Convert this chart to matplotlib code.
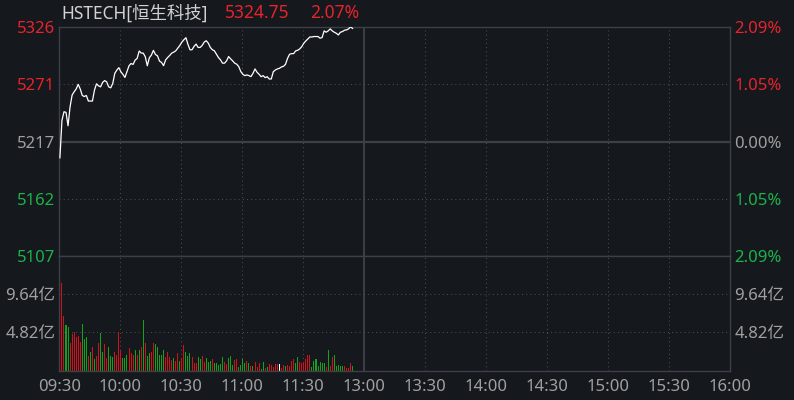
import numpy as np
import matplotlib
matplotlib.use('Agg')
from matplotlib import pyplot as plt

### DATA
name = 'HSTECH[恒生科技]'
last_price = '5324.75'
last_change = '2.07%'
prev_close = 5216.77

# one price per minute from 09:30
prices = [
    5201.4, 5237.0, 5245.3, 5244.7, 5231.9, 5250.0, 5261.2, 5264.3, 5267.0, 5271.4,
    5267.0, 5260.8, 5259.8, 5260.8, 5255.5, 5255.5, 5255.5, 5265.9, 5271.9, 5270.0,
    5269.0, 5273.2, 5275.0, 5273.8, 5269.0, 5268.1, 5272.2, 5281.9, 5285.0, 5287.3,
    5283.4, 5280.9, 5278.0, 5283.4, 5289.1, 5291.3, 5290.4, 5294.5, 5296.1, 5303.2,
    5301.2, 5301.2, 5297.7, 5289.1, 5296.7, 5299.3, 5303.8, 5299.9, 5298.6,
    5293.6, 5292.3, 5289.2, 5294.7, 5297.0, 5298.9, 5301.2, 5302.1, 5303.4, 5306.0,
    5308.5, 5311.7, 5313.9, 5315.9, 5309.5, 5304.4, 5304.4, 5307.6, 5309.8, 5306.6,
    5306.6, 5308.5, 5311.7, 5313.0, 5310.7, 5306.6, 5304.4, 5303.4, 5300.2, 5297.0,
    5294.8, 5291.6, 5291.6, 5293.8, 5297.9, 5295.7, 5293.8, 5291.6, 5290.6, 5288.3,
    5283.6, 5281.0, 5279.7, 5280.4, 5279.7, 5278.8, 5281.9, 5286.1,
    5282.9, 5281.0, 5278.7, 5279.7, 5277.8, 5278.7, 5276.5, 5276.5, 5283.5, 5285.1,
    5286.1, 5286.7, 5288.0, 5288.6, 5290.5, 5296.2, 5300.1, 5300.7, 5300.7, 5303.3,
    5303.9, 5305.2, 5307.4, 5310.6, 5312.8, 5314.7, 5316.6, 5316.6, 5317.0, 5317.0,
    5317.0, 5315.4, 5316.0, 5322.4, 5321.1, 5322.4, 5324.3, 5322.4, 5321.1, 5320.1,
    5318.5, 5321.1, 5321.7, 5323.0, 5323.3, 5324.3, 5326.2, 5324.75,
]

# turnover per minute, in 亿
volumes = [
    14.4, 11.0, 6.88, 5.73, 5.48, 3.44, 4.63, 4.84, 4.20, 4.33,
    3.57, 5.86, 3.95, 4.20, 1.91, 2.42, 2.93, 1.53, 1.91, 3.44,
    4.71, 2.42, 3.31, 1.66, 2.93, 1.91, 1.78, 2.42, 2.04, 4.84,
    2.67, 1.66, 1.66, 2.04, 2.80, 2.17, 2.04,
    2.67, 2.04, 2.67, 2.93, 6.37, 3.44, 1.91, 2.29, 2.42, 3.44,
    3.31, 2.93, 2.04, 2.04, 2.55, 1.78, 2.42, 1.78, 1.40, 1.66,
    1.27, 2.29, 1.27, 1.66, 3.18, 2.42, 1.91, 2.17, 1.78, 1.02,
    1.02, 1.78, 1.53, 1.91, 1.15, 1.66,
    1.15, 1.27, 1.53, 1.02, 1.02, 0.76, 0.89, 1.78, 1.15, 0.89,
    1.66, 1.91, 0.76, 1.40, 1.53, 0.51, 0.76, 1.53, 1.02, 1.27,
    1.02, 0.64, 0.64, 1.15, 0.51, 1.02, 0.25, 1.15, 0.38, 0.51,
    0.89, 0.76, 0.51, 0.89, 0.89, 0.89,
    0.38, 0.76, 0.64, 0.76, 0.64, 1.27, 1.53, 1.02, 1.78, 1.15,
    1.02, 1.15, 1.53, 2.04, 2.04, 0.51, 1.27, 1.53, 0.64, 1.15,
    1.02, 1.02, 0.51, 2.55, 0.64, 1.78, 2.04, 0.64, 0.76, 0.64,
    0.64, 0.64, 0.38, 0.38, 1.02, 0.64,
]
# 1 up (red), -1 down (green), 0 flat (white)
directions = [
    1, 1, 1, -1, -1, 1, 1, 1, 1, 1,
    1, -1, -1, -1, 1, -1, 1, -1, 1, 1,
    -1, -1, 1, 1, -1, -1, -1, 1, 1, 1,
    1, -1, -1, -1, 1, 1, 1,
    -1, 1, -1, 1, -1, 1, -1, -1, 1, 1,
    -1, -1, -1, -1, -1, 1, 1, 1, 1, -1,
    1, 1, -1, 1, 1, -1, -1, -1, 1, 1,
    1, -1, -1, 1, 1, -1,
    -1, -1, 1, -1, -1, -1, -1, -1, 1, 1,
    -1, -1, -1, 1, 1, -1, -1, -1, -1, 1,
    -1, 1, -1, 1, 1, 1, -1, -1, 1, -1,
    1, 1, 1, 1, 1, 0,
    1, 1, -1, 1, 1, 1, 1, -1, -1, 1,
    1, 1, 1, 1, 1, -1, -1, -1, -1, -1,
    -1, -1, 1, -1, 1, 1, -1, -1, -1, -1,
    -1, 1, 1, 1, 1, -1,
]

time_labels = ['09:30', '10:00', '10:30', '11:00', '11:30', '13:00',
               '13:30', '14:00', '14:30', '15:00', '15:30', '16:00']
price_labels = ['5107', '5162', '5217', '5271', '5326']
pct_labels = ['2.09%', '1.05%', '0.00%', '1.05%', '2.09%']
vol_ticks = [4.82, 9.64]
vol_labels = ['4.82亿', '9.64亿']

### STYLE
bg = '#15181d'
red_txt = '#e8232c'
green_txt = '#1cb34a'
gray_txt = '#a0a0a0'
grid_c = '#494c53'
line_c = '#3d4046'
up_c, down_c, flat_c = '#d2121a', '#16a01c', '#ffffff'

plt.rcParams['font.family'] = ['Noto Sans', 'Noto Sans CJK SC', 'DejaVu Sans']
plt.rcParams['font.size'] = 12

W, H = 794, 400
fig = plt.figure(figsize = (W / 100, H / 100), dpi = 100, facecolor = bg)

x0, x1 = 59.3, 730.0
y_top, y_mid, y_bot = 27.3, 256.0, 370.7
ax_p = fig.add_axes([x0 / W, 1 - y_mid / H, (x1 - x0) / W, (y_mid - y_top) / H])
ax_v = fig.add_axes([x0 / W, 1 - y_bot / H, (x1 - x0) / W, (y_bot - y_mid) / H], sharex = ax_p)

n_min = 330
minutes = np.arange(len(prices)) + 0.3
half_hours = np.arange(0, n_min + 1, 30)

top = prev_close * 1.0209
bot = prev_close * 0.9791
p_ticks = np.linspace(bot, top, 5)

for ax in (ax_p, ax_v):
    ax.set_facecolor(bg)
    for s in ax.spines.values():
        s.set_color(line_c)
        s.set_linewidth(1.0)
    ax.tick_params(length = 0, colors = gray_txt, labelsize = 12)
    for t in half_hours[1:-1]:
        if t == 150:
            ax.axvline(t, color = line_c, lw = 1.4, zorder = 1)
        else:
            ax.axvline(t, color = grid_c, lw = 0.75, ls = (0, (1, 3)), zorder = 1)

ax_p.set_xlim(0, n_min)
ax_p.set_ylim(bot, top)

# price panel
for v in (p_ticks[1], p_ticks[3]):
    ax_p.axhline(v, color = grid_c, lw = 0.75, ls = (0, (1, 3)), zorder = 1)
ax_p.axhline(prev_close, color = line_c, lw = 1.6, zorder = 1)
ax_p.plot(minutes, prices, color = '#ffffff', lw = 0.9, zorder = 3)
ax_p.set_yticks(p_ticks)
ax_p.set_yticklabels(price_labels)
ax_p.tick_params(axis = 'y', pad = 3)
ax_p.tick_params(axis = 'x', labelbottom = False)
txt_colors = [green_txt, green_txt, gray_txt, red_txt, red_txt]
for lab, c in zip(ax_p.get_yticklabels(), txt_colors):
    lab.set_color(c)

ax_r = ax_p.twinx()
ax_r.set_ylim(bot, top)
ax_r.set_yticks(p_ticks)
ax_r.set_yticklabels(pct_labels)
ax_r.tick_params(length = 0, pad = 3, labelsize = 12)
for s in ax_r.spines.values():
    s.set_visible(False)
for lab, c in zip(ax_r.get_yticklabels(), txt_colors):
    lab.set_color(c)

# volume panel
bar_colors = [up_c if d > 0 else down_c if d < 0 else flat_c for d in directions]
ax_v.bar(minutes, volumes, width = 0.5, color = bar_colors, linewidth = 0,
         antialiased = False, zorder = 2)
ax_v.set_ylim(0, 3 * vol_ticks[0])
for v in vol_ticks:
    ax_v.axhline(v, color = grid_c, lw = 0.75, ls = (0, (1, 3)), zorder = 1)
ax_v.set_yticks(vol_ticks)
ax_v.set_yticklabels(vol_labels)
ax_v.tick_params(axis = 'y', pad = 3, labelleft = True, labelright = True)
ax_v.set_xticks(half_hours)
ax_v.set_xticklabels(time_labels)
ax_v.tick_params(axis = 'x', pad = 6)

# header
fig.text(61 / W, 1 - 13.5 / H, name, color = '#d2d2d2', fontsize = 12.5, va = 'center', ha = 'left')
fig.text(225 / W, 1 - 13.5 / H, last_price, color = red_txt, fontsize = 12.5, va = 'center', ha = 'left')
fig.text(310 / W, 1 - 13.5 / H, last_change, color = red_txt, fontsize = 12.5, va = 'center', ha = 'left')

fig.savefig('out.png', dpi = 100, facecolor = bg)
